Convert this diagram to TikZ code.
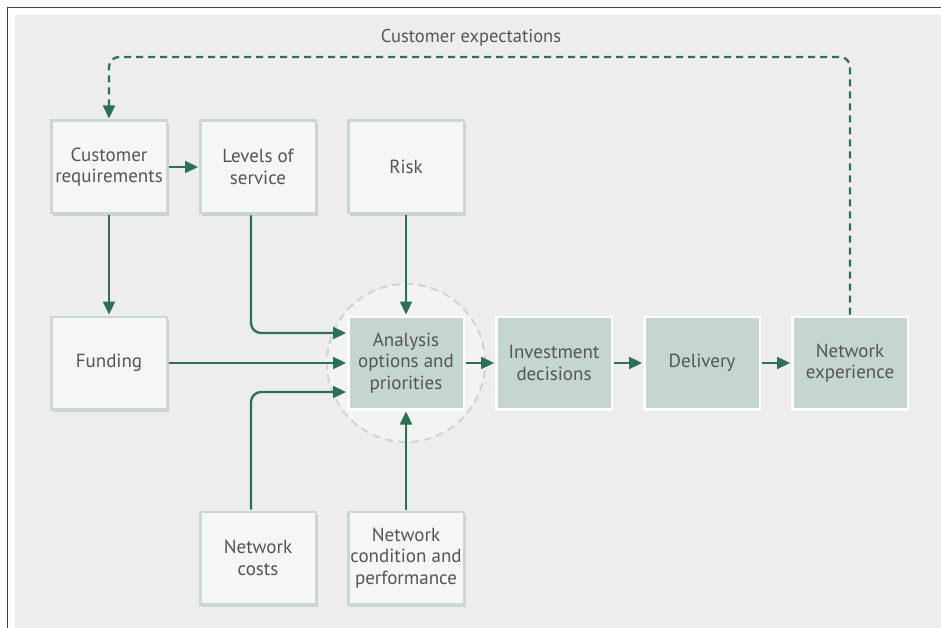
\documentclass[tikz,border=0pt]{standalone}
\usepackage{fontspec}
\setmainfont{PT Sans}
\usetikzlibrary{shadows,arrows.meta}
\definecolor{arr}{HTML}{2E7052}
\definecolor{bg}{HTML}{EDEDED}
\definecolor{boxfill}{HTML}{F6F6F6}
\definecolor{boxline}{HTML}{C8D9D1}
\definecolor{darkfill}{HTML}{C5D5CF}
\definecolor{txt}{HTML}{555555}
\definecolor{circline}{HTML}{CBD7D1}
\definecolor{circfill}{HTML}{F3F3F3}
\definecolor{frame}{HTML}{444444}
\begin{document}
\begin{tikzpicture}[x=1pt,y=-1pt,
  basebox/.style={line width=2.5pt, minimum width=115.5pt, minimum height=92.5pt, inner sep=0pt,
    align=center, text=txt, font=\fontsize{19}{21.5}\selectfont},
  lightbox/.style={basebox, draw=boxline, fill=boxfill,
    drop shadow={shadow xshift=2pt, shadow yshift=-3pt, opacity=0.22, fill=black!60}},
  darkbox/.style={basebox, draw=white, fill=darkfill},
  arrow/.style={draw=arr, line width=2.3pt, -{Triangle[length=13pt,width=12pt]}, shorten >=1pt, shorten <=1pt},
  dasharrow/.style={arrow, dash pattern=on 7pt off 5pt, rounded corners=10pt}]
\useasboundingbox (0,0) rectangle (941,628);
\fill[white] (0,0) rectangle (941,628);
\fill[bg] (15,15) rectangle (941,628);
\draw[frame, line width=1.5pt] (7.5,628) -- (7.5,7.5) -- (941,7.5);

\node[circle, draw=circline, fill=circfill, line width=2pt, dash pattern=on 8pt off 5pt, minimum size=158pt] (circ) at (406,363) {};

\node[lightbox] (creq) at (109,167) {Customer\\requirements};
\node[lightbox] (lev) at (258,167) {Levels of\\service};
\node[lightbox] (risk) at (406,167) {Risk};
\node[lightbox] (fund) at (109,363) {Funding};
\node[darkbox] (ana) at (406,363) {Analysis\\options and\\priorities};
\node[darkbox] (inv) at (554,363) {Investment\\decisions};
\node[darkbox] (del) at (702,363) {Delivery};
\node[darkbox] (nexp) at (850,363) {Network\\experience};
\node[lightbox] (cost) at (258,558) {Network\\costs};
\node[lightbox] (cond) at (406,558) {Network\\condition and\\performance};

\draw[arrow] (creq) -- (lev);
\draw[arrow] (creq) -- (fund);
\draw[arrow] (risk) -- (ana);
\draw[arrow] (fund) -- (ana);
\draw[arrow] (cond) -- (ana);
\draw[arrow] (ana) -- (inv);
\draw[arrow] (inv) -- (del);
\draw[arrow] (del) -- (nexp);
\draw[arrow, rounded corners=10pt] ([xshift=-7pt]lev.south) |- ([yshift=30pt]ana.west);
\draw[arrow, rounded corners=10pt] ([xshift=-7pt]cost.north) |- ([yshift=-29pt]ana.west);

\coordinate (topc) at (470,57);
\draw[dasharrow] (nexp.north) |- (topc) -| (creq.north);
\node[text=txt, font=\fontsize{18.5}{21}\selectfont] (lab) at (471,38) {Customer expectations};
\end{tikzpicture}
\end{document}
